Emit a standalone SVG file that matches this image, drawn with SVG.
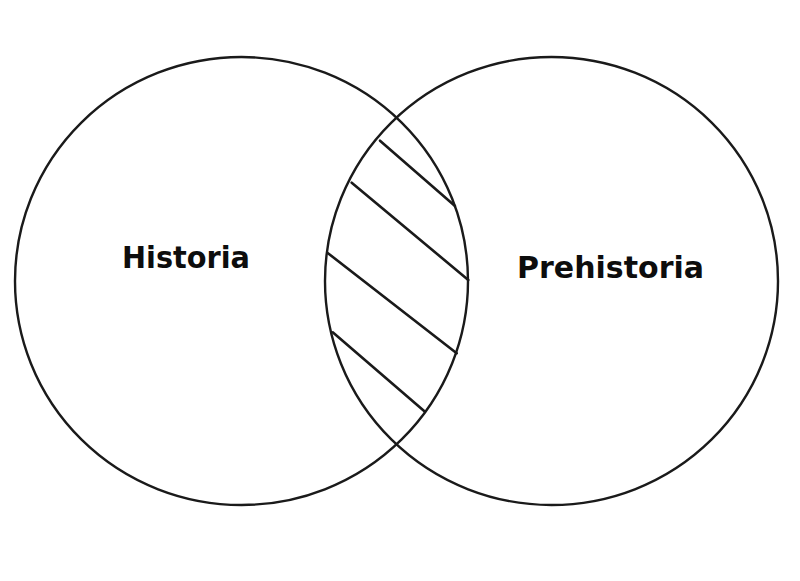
<svg xmlns="http://www.w3.org/2000/svg" width="800" height="581" viewBox="0 0 800 581">
<style>
.c{fill:none;stroke:#1a1a1a;stroke-width:2.4}
.h{stroke:#1a1a1a;stroke-width:2.6;stroke-linecap:round}
.t{font-family:"DejaVu Sans",Verdana,sans-serif;font-weight:bold;font-size:31px;fill:#0d0d0d}
</style>
<rect width="800" height="581" fill="#fff"/>
<g id="historia">
<ellipse class="c" cx="241.5" cy="281" rx="226.5" ry="224"/>
<text class="t" x="122" y="268" textLength="128" lengthAdjust="spacingAndGlyphs">Historia</text>
</g>
<g id="prehistoria">
<ellipse class="c" cx="551.5" cy="281" rx="226.5" ry="224"/>
<text class="t" x="517" y="278" textLength="187" lengthAdjust="spacingAndGlyphs">Prehistoria</text>
</g>
<g id="hatch">
<line class="h" x1="380" y1="140.7" x2="455" y2="206"/>
<line class="h" x1="351.7" y1="182.7" x2="468.3" y2="280"/>
<line class="h" x1="327.3" y1="252.7" x2="456.7" y2="353.3"/>
<line class="h" x1="332.7" y1="332.3" x2="425" y2="411.7"/>
</g>
</svg>
